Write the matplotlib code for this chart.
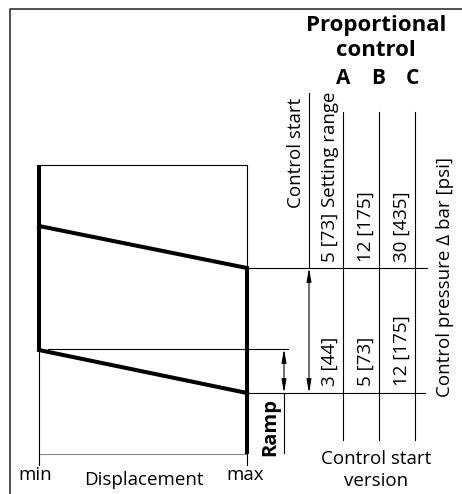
import matplotlib.pyplot as plt

plt.rcParams['font.family'] = ['Open Sans', 'DejaVu Sans']

# column headers and values
versions = ['A', 'B', 'C']
setting_range = ['5 [73]', '12 [175]', '30 [435]']
control_start = ['3 [44]', '5 [73]', '12 [175]']

# diagram levels (pixel units of the schematic)
d_min, d_max = 39, 247
p_top, p_upper, p_set, p_ramp, p_start, p_bottom = 165, 226, 268, 350, 393, 454
col_x = [343, 379, 415]
text_x = [330, 366, 402]

fig = plt.figure(figsize=(4.62, 4.94), dpi=100)
ax = fig.add_axes([0, 0, 1, 1])
ax.set_xlim(0, 462)
ax.set_ylim(494, 0)
ax.axis('off')

thin = 0.8
thick = 2.9
fs = 13.5

# outer frame
ax.plot([9.5, 9.5, 470], [500, 9.5, 9.5], color='#333333', lw=1.2)

# characteristic box
ax.plot([d_min, d_max, d_max], [p_top, p_top, p_set], color='black', lw=thin)
ax.plot([d_min, d_max], [p_bottom, p_bottom], color='#888888', lw=thin)
ax.plot([d_min, d_min], [p_ramp, p_bottom + 11], color='black', lw=thin)
ax.plot([d_max, d_max], [p_bottom, p_bottom + 11], color='black', lw=thin)

# thick curve
ax.plot([d_min, d_min], [p_top, p_ramp], color='black', lw=thick, solid_capstyle='butt')
ax.plot([d_min, d_max], [p_upper, p_set], color='black', lw=thick)
ax.plot([d_min, d_max], [p_ramp, p_start], color='black', lw=thick)
ax.plot([d_max, d_max], [p_set, p_bottom], color='black', lw=thick, solid_capstyle='butt')

# reference lines
ax.plot([d_max, 427], [p_set, p_set], color='black', lw=thin)
ax.plot([d_max, 425], [p_start, p_start], color='black', lw=thin)
ax.plot([48, 288], [p_ramp - 1, p_ramp - 1], color='black', lw=thin)

# setting range arrow
ax.plot([309, 309], [93, p_set], color='black', lw=thin)
arrow = dict(arrowstyle='<|-|>,head_length=0.8,head_width=0.14', color='black',
             lw=thin, shrinkA=0, shrinkB=0)
ax.annotate('', xy=(309, p_set), xytext=(309, p_start), arrowprops=arrow)

# ramp arrow
ax.annotate('', xy=(284, p_ramp - 1), xytext=(284, p_start), arrowprops=arrow)
ax.plot([284, 284], [p_start, 453], color='black', lw=thin)
ax.text(270, 427, 'Ramp', rotation=90, ha='center', va='center',
        fontsize=14.5, fontweight='bold')

# version columns
for x, name in zip(col_x, versions):
    ax.plot([x, x], [112, 440], color='black', lw=thin)
for x, name in zip([343, 378, 412], versions):
    ax.text(x, 78, name, ha='center', va='center', fontsize=15, fontweight='bold')

for x, s in zip(text_x, setting_range):
    ax.text(x, 262, s, rotation=90, ha='center', va='bottom', fontsize=fs)
for x, s in zip(text_x, control_start):
    ax.text(x, 386, s, rotation=90, ha='center', va='bottom', fontsize=fs)

ax.text(330, 207, 'Setting range', rotation=90, ha='center', va='bottom', fontsize=fs)
ax.text(296, 208, 'Control start', rotation=90, ha='center', va='bottom', fontsize=fs)
ax.text(445, 277, 'Control pressure \u0394 bar [psi]', rotation=90,
        ha='center', va='center', fontsize=fs)

# headers
ax.text(376, 26, 'Proportional', ha='center', va='center', fontsize=16, fontweight='bold')
ax.text(376, 51, 'control', ha='center', va='center', fontsize=16, fontweight='bold')
ax.text(376, 459, 'Control start', ha='center', va='center', fontsize=fs)
ax.text(376, 481, 'version', ha='center', va='center', fontsize=fs)

# displacement axis labels
ax.text(35, 475, 'min', ha='center', va='center', fontsize=fs)
ax.text(144, 480, 'Displacement', ha='center', va='center', fontsize=fs)
ax.text(245, 475, 'max', ha='center', va='center', fontsize=fs)

fig.savefig('out.png', dpi=100)
